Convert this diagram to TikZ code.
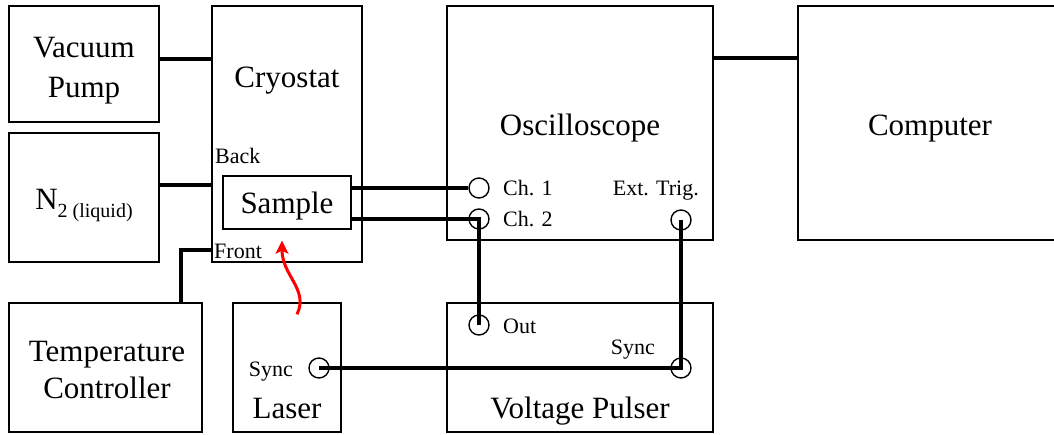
\documentclass[tikz,border=0pt]{standalone}
\usepackage{fontspec}
\setmainfont{Liberation Serif}
\usetikzlibrary{arrows.meta}
\definecolor{beamred}{HTML}{FF0000}

\begin{document}
\begin{tikzpicture}[x=1pt,y=-1pt,
    unitbox/.style={draw,line width=1.4pt,inner sep=0pt},
    portCircle/.style={draw,circle,line width=1.4pt,minimum size=20pt,inner sep=0pt},
    cableEdge/.style={draw,line width=3.2pt},
    laserBeam/.style={draw=beamred,line width=3pt,-{Stealth[length=13pt,width=13pt,inset=3pt]}},
    tag/.style={inner sep=0pt,font=\fontsize{22}{26}\selectfont},
    title/.style={inner sep=0pt,anchor=base,font=\fontsize{31}{38}\selectfont}
]
\useasboundingbox (0,0) rectangle (1054,434);
\node[unitbox,minimum width=150pt,minimum height=116pt] (vac) at (84,64) {};
\node[unitbox,minimum width=150pt,minimum height=256pt] (cryo) at (287,134) {};
\node[unitbox,minimum width=150pt,minimum height=129pt] (n2) at (84,197.5) {};
\node[unitbox,minimum width=193pt,minimum height=129pt] (tc) at (105.5,367.5) {};
\node[unitbox,minimum width=108pt,minimum height=129pt] (laser) at (287,367.5) {};
\node[unitbox,minimum width=266pt,minimum height=129pt] (pulser) at (580,367.5) {};
\node[unitbox,minimum width=266pt,minimum height=234pt] (osc) at (580,123) {};
\node[unitbox,minimum width=264pt,minimum height=234pt] (comp) at (930,123) {};
\node[unitbox,minimum width=128pt,minimum height=53pt] (sample) at (287,202.5) {};
% box texts
\node[title] (vacLabelA) at (84,57) {Vacuum};
\node[title] (vacLabelB) at (84,97) {Pump};
\node[title] (cryoLabel) at (287,87) {Cryostat};
\node[title] (n2Label) at (84,209) {N\raisebox{-8pt}{\fontsize{20}{24}\selectfont 2 (liquid)}};
\node[title] (tcLabelA) at (107,361) {Temperature};
\node[title] (tcLabelB) at (107,398) {Controller};
\node[title] (laserLabel) at (287,418) {Laser};
\node[title] (pulserLabel) at (580,418) {Voltage Pulser};
\node[title] (oscLabel) at (580,135) {Oscilloscope};
\node[title] (compLabel) at (930,135) {Computer};
\node[title] (sampleLabel) at (287,213) {Sample};
% ports
\node[portCircle] (ch1) at (479,188) {};
\node[portCircle] (ch2) at (479,219) {};
\node[portCircle] (ext) at (681,220) {};
\node[portCircle] (out) at (479,325) {};
\node[portCircle] (psync) at (681,368) {};
\node[portCircle] (lsync) at (319,368) {};
\node[tag,anchor=base west] (ch1Label) at (503,195) {Ch. 1};
\node[tag,anchor=base west] (ch2Label) at (503,226) {Ch. 2};
\node[tag,anchor=base east] (extLabel) at (699,195) {Ext. Trig.};
\node[tag,anchor=base west] (outLabel) at (503,333) {Out};
\node[tag,anchor=base east] (psyncLabel) at (655,354) {Sync};
\node[tag,anchor=base east] (lsyncLabel) at (293,376) {Sync};
\node[tag,anchor=base west] (backLabel) at (215,163) {Back};
\node[tag,anchor=base west] (frontLabel) at (214,258) {Front};
% cables
\draw[cableEdge] ([yshift=5pt]vac.east) -- ([yshift=5pt]vac.east -| cryo.west);
\draw[cableEdge] ([yshift=12.5pt]n2.east) -- ([yshift=12.5pt]n2.east -| cryo.west);
\draw[cableEdge] ([xshift=75.5pt]tc.north) |- ([yshift=-116pt]cryo.west);
\draw[cableEdge] ([yshift=65pt]osc.east) -- ([yshift=65pt]osc.east -| comp.west);
\draw[cableEdge] (sample.east |- ch1) -- (ch1.west);
\draw[cableEdge] (sample.east |- ch2) -- (ch2.center) -- (out.center);
\draw[cableEdge] (ext.center) -- (psync.center) -- (lsync.center);
% laser light
\draw[laserBeam] ([shift={(10pt,-12pt)}]laser.north) .. controls +(12pt,25pt) and +(0pt,-35pt) .. ([shift={(-5pt,-11pt)}]sample.south);
\end{tikzpicture}
\end{document}
